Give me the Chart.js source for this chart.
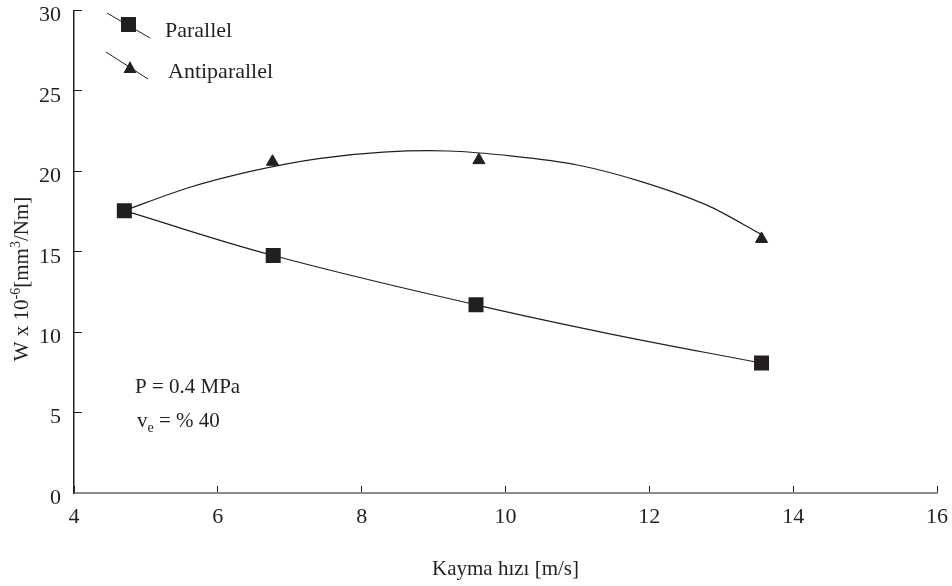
<!DOCTYPE html>
<html>
<head>
<meta charset="utf-8">
<script src="https://cdn.jsdelivr.net/npm/chart.js@4.4.1/dist/chart.umd.min.js"></script>
<style>
html, body { margin: 0; padding: 0; background: #fff; }
</style>
</head>
<body>
<canvas id="myChart" width="952" height="586"></canvas>
<script>
// axis ticks
const xTicks = [4, 6, 8, 10, 12, 14, 16]
const yTicks = [0, 5, 10, 15, 20, 25, 30]

// measured points
const parallelX = [4.70, 6.77, 9.59, 13.56]
const parallelY = [17.56, 14.77, 11.70, 8.08]
const antiX = [6.76, 9.63, 13.56]
const antiY = [20.6, 20.7, 15.8]

// fitted curves
const parallelFitX = [4.70, 6.77, 9.59, 11.45, 13.56]
const parallelFitY = [17.56, 14.77, 11.70, 9.90, 8.08]
const antiFitX = [4.70, 5.6, 6.5, 7.4, 8.3, 9.2, 10.1, 11.0, 11.9, 12.8, 13.55]
const antiFitY = [17.56, 19.0, 20.05, 20.8, 21.2, 21.27, 20.95, 20.4, 19.35, 17.9, 16.1]

const ink = '#231f20'
const zip = (xs, ys) => xs.map((x, i) => ({ x: x, y: ys[i] }))

Chart.defaults.font.family = "'Liberation Serif', 'Times New Roman', serif"
Chart.defaults.font.size = 22
Chart.defaults.color = ink

// legend, notes and y title (superscripts) drawn on top
const extras = {
    id: 'extras',
    afterDraw(chart) {
        const ctx = chart.ctx
        ctx.save()
        ctx.fillStyle = ink
        ctx.strokeStyle = ink
        ctx.lineWidth = 1
        ctx.textBaseline = 'alphabetic'
        ctx.textAlign = 'left'

        // legend
        ctx.beginPath()
        ctx.moveTo(107, 13); ctx.lineTo(150, 38)
        ctx.moveTo(106, 52); ctx.lineTo(148, 79)
        ctx.stroke()
        ctx.fillRect(121, 17, 15, 15)
        ctx.beginPath()
        ctx.moveTo(130, 61); ctx.lineTo(136.5, 73); ctx.lineTo(123.5, 73)
        ctx.closePath()
        ctx.fill()
        ctx.font = "22px 'Liberation Serif'"
        ctx.fillText('Parallel', 165, 37)
        ctx.fillText('Antiparallel', 168, 78)

        // notes
        ctx.font = "21px 'Liberation Serif'"
        ctx.fillText('P = 0.4 MPa', 135, 393)
        ctx.fillText('v', 137, 427)
        let w = ctx.measureText('v').width
        ctx.font = "14px 'Liberation Serif'"
        ctx.fillText('e', 137 + w, 432)
        w += ctx.measureText('e').width
        ctx.font = "21px 'Liberation Serif'"
        ctx.fillText(' = % 40', 137 + w, 427)

        // y title
        const parts = [['W x 10', 0, 21], ['-6', -8, 14], ['[mm', 0, 21], ['3', -8, 14], ['/Nm]', 0, 21]]
        let total = 0
        parts.forEach(p => { ctx.font = p[2] + "px 'Liberation Serif'"; total += ctx.measureText(p[0]).width })
        ctx.translate(28, 279)
        ctx.rotate(-Math.PI / 2)
        let cx = -total / 2
        parts.forEach(p => {
            ctx.font = p[2] + "px 'Liberation Serif'"
            ctx.fillText(p[0], cx, p[1])
            cx += ctx.measureText(p[0]).width
        })
        ctx.restore()
    }
}

const ctx = document.querySelector('#myChart')

new Chart(ctx, {
    type: 'scatter',
    data: {
        datasets: [
            {
                label: 'Parallel fit',
                data: zip(parallelFitX, parallelFitY),
                showLine: true,
                pointRadius: 0,
                borderColor: ink,
                borderWidth: 1.2,
                tension: 0.4
            },
            {
                label: 'Antiparallel fit',
                data: zip(antiFitX, antiFitY),
                showLine: true,
                pointRadius: 0,
                borderColor: ink,
                borderWidth: 1.2,
                tension: 0.3
            },
            {
                label: 'Parallel',
                data: zip(parallelX, parallelY),
                showLine: false,
                pointStyle: 'rect',
                pointRadius: 10.6,
                backgroundColor: ink,
                borderColor: ink,
                borderWidth: 0
            },
            {
                label: 'Antiparallel',
                data: zip(antiX, antiY),
                showLine: false,
                pointStyle: 'triangle',
                pointRadius: 7,
                backgroundColor: ink,
                borderColor: ink,
                borderWidth: 1
            }
        ]
    },
    options: {
        responsive: false,
        animation: false,
        devicePixelRatio: 1,
        layout: { padding: { top: 4, right: 15, left: 0, bottom: 0 } },
        plugins: { legend: { display: false }, tooltip: { enabled: false } },
        scales: {
            x: {
                type: 'linear',
                min: 4,
                max: 16,
                afterBuildTicks: s => { s.ticks = xTicks.map(v => ({ value: v })) },
                afterFit: s => { s.height = 93; s.paddingLeft = 0; s.paddingRight = 0 },
                ticks: { padding: 18, color: ink, maxRotation: 0 },
                grid: { display: true, drawOnChartArea: false, drawTicks: true, tickLength: -7, color: ink, lineWidth: 1 },
                border: { display: true, color: '#8a8a8a', width: 2 },
                title: { display: true, text: 'Kayma hızı [m/s]', color: ink, font: { size: 21 }, padding: { top: 0, bottom: 4 } }
            },
            y: {
                type: 'linear',
                min: 0,
                max: 30,
                afterBuildTicks: s => { s.ticks = yTicks.map(v => ({ value: v })) },
                afterFit: s => { s.width = 74; s.paddingTop = 0; s.paddingBottom = 0 },
                ticks: { padding: 21, color: ink, labelOffset: 5 },
                grid: { display: true, drawOnChartArea: false, drawTicks: true, tickLength: -8, color: ink, lineWidth: 1 },
                border: { display: true, color: ink, width: 1.5 }
            }
        }
    },
    plugins: [extras]
})
</script>
</body>
</html>
